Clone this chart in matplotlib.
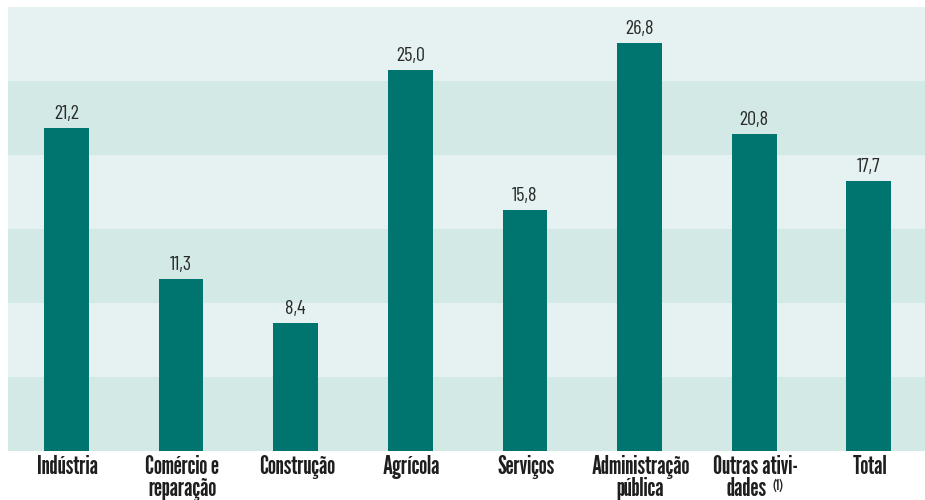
import matplotlib.pyplot as plt

# share of workers by activity sector (%)
categories = ["Indústria", "Comércio e\nreparação", "Construção", "Agrícola",
              "Serviços", "Administração\npública", "Outras ativi-", "Total"]
values = [21.2, 11.3, 8.4, 25.0, 15.8, 26.8, 20.8, 17.7]
value_labels = ["21,2", "11,3", "8,4", "25,0", "15,8", "26,8", "20,8", "17,7"]

bar_color = "#00756f"
band_light = "#e6f2f2"
band_dark = "#d2e9e6"
label_font = ["League Gothic", "DejaVu Sans"]
value_font = ["Barlow Condensed", "DejaVu Sans"]

fig = plt.figure(figsize=(9.25, 5), dpi=100)
ax = fig.add_axes([8 / 925, 49 / 500, 917 / 925, 444 / 500])

ymax = 29.15
ax.set_xlim(-0.51, 7.49)
ax.set_ylim(0, ymax)

# alternating horizontal bands behind the bars
for i in range(6):
    col = band_dark if i % 2 == 0 else band_light
    ax.axhspan(i * ymax / 6, (i + 1) * ymax / 6, color=col, lw=0, zorder=0)

x = list(range(len(values)))
ax.bar(x, values, width=0.39, color=bar_color, zorder=2)

for xi, v, lab in zip(x, values, value_labels):
    ax.annotate(lab, (xi, v), xytext=(0, 6.5), textcoords="offset points",
                ha="center", va="baseline", fontsize=14.5, fontweight="normal",
                color="#2a2a2a", family=value_font)

pts = 0.72  # pixels -> points at 100 dpi
for xi, cat in zip(x, categories):
    ax.annotate(cat, (xi, 0), xycoords=("data", "axes fraction"),
                xytext=(1 * pts, -4 * pts), textcoords="offset points",
                ha="center", va="top", fontsize=18.5, color="#1e1e1e",
                linespacing=0.88, family=label_font)

# second line of "Outras atividades" with its footnote mark
ax.annotate("dades", (6, 0), xycoords=("data", "axes fraction"),
            xytext=(12.5 * pts, -26 * pts), textcoords="offset points",
            ha="right", va="top", fontsize=18.5, color="#1e1e1e", family=label_font)
ax.annotate("(1)", (6, 0), xycoords=("data", "axes fraction"),
            xytext=(18.5 * pts, -28 * pts), textcoords="offset points",
            ha="left", va="top", fontsize=10, color="#1e1e1e", family=label_font)

ax.set_xticks([])
ax.set_yticks([])
for s in ax.spines.values():
    s.set_visible(False)

fig.savefig("out.png", dpi=100)
